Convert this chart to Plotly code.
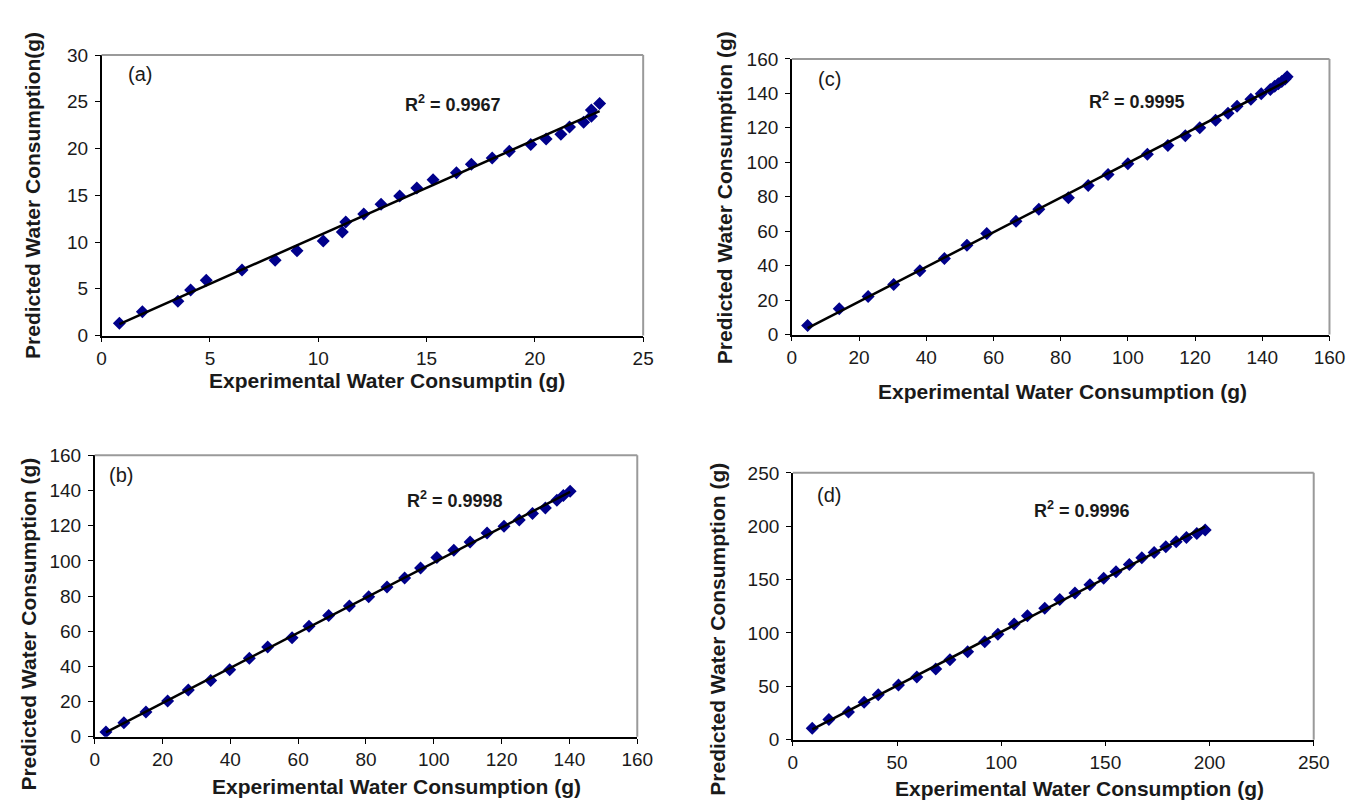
import numpy as np
import plotly.graph_objects as go

# ---------------- data ----------------
a_exp = [0.82, 1.88, 3.52, 4.11, 4.83, 6.48, 8.01, 9.02, 10.23, 11.11, 11.27, 12.1, 12.9, 13.76,
         14.55, 15.3, 16.38, 17.07, 18.03, 18.82, 19.81, 20.52, 21.2, 21.6, 22.25, 22.61, 22.61, 22.99]
a_pred = [1.32, 2.54, 3.66, 4.88, 5.92, 7.0, 8.05, 9.06, 10.1, 11.08, 12.13, 13.0, 14.04, 14.91,
          15.78, 16.66, 17.42, 18.33, 18.99, 19.72, 20.42, 21.01, 21.53, 22.3, 22.82, 23.45, 24.11, 24.81]

b_exp = [3.3, 8.6, 15.1, 21.5, 27.6, 34.2, 39.8, 45.6, 51.0, 58.2, 63.2, 69.0, 75.1, 80.8, 86.2,
         91.4, 96.1, 100.9, 105.9, 110.7, 115.7, 120.7, 125.2, 129.1, 132.9, 136.3, 138.2, 140.2]
b_pred = [2.8, 8.0, 14.1, 20.4, 26.6, 32.0, 38.1, 44.6, 51.1, 56.3, 62.8, 69.0, 74.3, 79.6, 85.1,
          90.3, 95.9, 101.9, 106.1, 110.8, 115.8, 119.7, 123.2, 127.0, 130.1, 134.4, 137.2, 139.6]

c_exp = [4.7, 14.1, 22.7, 30.3, 38.1, 45.4, 52.1, 58.0, 66.7, 73.5, 82.3, 88.2, 94.1, 100.0, 105.8,
         111.9, 117.1, 121.4, 126.1, 129.8, 132.5, 136.6, 139.7, 142.4, 143.7, 144.8, 145.8, 146.8, 147.4]
c_pred = [5.25, 15.0, 22.1, 29.1, 37.1, 44.1, 51.8, 58.7, 65.7, 72.8, 79.4, 86.5, 92.9, 99.1, 104.7,
          109.8, 115.4, 120.1, 124.4, 128.5, 132.5, 136.6, 139.8, 142.2, 144.1, 145.6, 146.9, 148.4, 149.7]

d_exp = [9.3, 17.3, 26.7, 34.2, 41.0, 50.7, 59.5, 68.6, 75.4, 83.9, 92.1, 98.4, 106.2, 112.6, 120.9,
         128.1, 135.4, 142.6, 149.2, 155.1, 161.5, 167.5, 173.4, 179.0, 184.0, 188.9, 193.9, 197.9]
d_pred = [10.7, 18.9, 26.0, 35.1, 42.2, 51.3, 58.7, 66.3, 74.9, 82.5, 91.7, 98.7, 108.5, 116.1, 123.2,
          131.4, 137.5, 145.2, 151.3, 157.4, 164.1, 170.5, 175.4, 180.9, 185.5, 189.5, 193.2, 196.5]

panel_labels = ["(a)", "(b)", "(c)", "(d)"]
r2_labels = ["R<sup>2</sup> = 0.9967", "R<sup>2</sup> = 0.9998", "R<sup>2</sup> = 0.9995", "R<sup>2</sup> = 0.9996"]
x_titles = ["Experimental Water Consumptin (g)", "Experimental Water Consumption (g)",
            "Experimental Water Consumption (g)", "Experimental Water Consumption (g)"]
y_titles = ["Predicted Water Consumption(g)", "Predicted Water Consumption (g)",
            "Predicted Water Consumption (g)", "Predicted Water Consumption (g)"]
x_ranges = [[0, 25], [0, 160], [0, 160], [0, 250]]
x_dticks = [5, 20, 20, 50]
y_ranges = [[0, 30], [0, 160], [0, 160], [0, 250]]
y_dticks = [5, 20, 20, 50]

# ---------------- layout geometry (pixels) ----------------
W, H = 1368, 808
def fx(p): return p / W
def fy(p): return 1 - p / H

# plot boxes: left, right, top, bottom
boxes = [(90, 640, 38, 326), (83, 634, 449, 738), (791, 1337, 42, 325), (792, 1321, 467, 741)]
label_pos = [(115, 58), (95, 469), (816, 63), (814, 490)]
r2_pos = [(396, 88), (398, 494), (1091, 85), (1035, 505)]
xt_pos = [(380, 372), (389, 789), (1066, 383), (1083, 791)]
yt_pos = [(20, 182), (16, 622), (722, 184), (716, 628)]

datasets = [(a_exp, a_pred), (b_exp, b_pred), (c_exp, c_pred), (d_exp, d_pred)]

FONT = "Liberation Sans, Arial, sans-serif"
fig = go.Figure()
layout = dict(
    width=W, height=H, margin=dict(l=0, r=0, t=0, b=0),
    paper_bgcolor="white", plot_bgcolor="white", showlegend=False,
    font=dict(family=FONT, color="#1a1a1a"),
)
shapes, annotations = [], []

for i, ((xs, ys), box) in enumerate(zip(datasets, boxes)):
    l, r, t, b = box
    xa = "xaxis" if i == 0 else f"xaxis{i+1}"
    ya = "yaxis" if i == 0 else f"yaxis{i+1}"
    xref = "x" if i == 0 else f"x{i+1}"
    yref = "y" if i == 0 else f"y{i+1}"
    axis_common = dict(
        showgrid=False, zeroline=False, showline=True, linecolor="black", linewidth=1.5,
        ticks="outside", ticklen=5, tickwidth=1, tickcolor="black",
        tickfont=dict(family=FONT, size=19, color="#1a1a1a"), mirror=False,
    )
    layout[xa] = dict(domain=[fx(l), fx(r)], range=x_ranges[i], dtick=x_dticks[i], tick0=0,
                      anchor=yref, **axis_common)
    layout[ya] = dict(domain=[fy(b), fy(t)], range=y_ranges[i], dtick=y_dticks[i], tick0=0,
                      anchor=xref, ticklabelstandoff=3, **axis_common)

    fig.add_trace(go.Scatter(x=xs, y=ys, mode="markers", xaxis=xref, yaxis=yref,
                             marker=dict(symbol="diamond", size=10, color="#00008B",
                                         line=dict(width=0))))
    k, c0 = np.polyfit(xs, ys, 1)
    xl = [min(xs), max(xs)]
    fig.add_trace(go.Scatter(x=xl, y=[k * v + c0 for v in xl], mode="lines", xaxis=xref, yaxis=yref,
                             line=dict(color="black", width=2.5)))

    # grey top and right frame lines
    shapes.append(dict(type="line", xref=f"{xref} domain", yref=f"{yref} domain",
                       x0=0, x1=1, y0=1, y1=1, line=dict(color="#9a9a9a", width=2)))
    shapes.append(dict(type="line", xref=f"{xref} domain", yref=f"{yref} domain",
                       x0=1, x1=1, y0=0, y1=1, line=dict(color="#9a9a9a", width=2)))

    lx, ly = label_pos[i]
    annotations.append(dict(text=panel_labels[i], xref="paper", yref="paper", x=fx(lx), y=fy(ly),
                            xanchor="left", yanchor="middle", showarrow=False,
                            font=dict(family=FONT, size=20, color="#1a1a1a")))
    rx, ry = r2_pos[i]
    annotations.append(dict(text=f"<b>{r2_labels[i]}</b>", xref="paper", yref="paper", x=fx(rx), y=fy(ry),
                            xanchor="left", yanchor="middle", showarrow=False,
                            font=dict(family=FONT, size=18, color="#1a1a1a")))
    tx, ty = xt_pos[i]
    annotations.append(dict(text=f"<b>{x_titles[i]}</b>", xref="paper", yref="paper", x=fx(tx), y=fy(ty),
                            xanchor="center", yanchor="middle", showarrow=False,
                            font=dict(family=FONT, size=21, color="#1a1a1a")))
    vx, vy = yt_pos[i]
    annotations.append(dict(text=f"<b>{y_titles[i]}</b>", xref="paper", yref="paper", x=fx(vx), y=fy(vy),
                            xanchor="center", yanchor="middle", textangle=-90, showarrow=False,
                            font=dict(family=FONT, size=21, color="#1a1a1a")))

layout["shapes"] = shapes
layout["annotations"] = annotations
fig.update_layout(**layout)
fig.write_html("out.html")
